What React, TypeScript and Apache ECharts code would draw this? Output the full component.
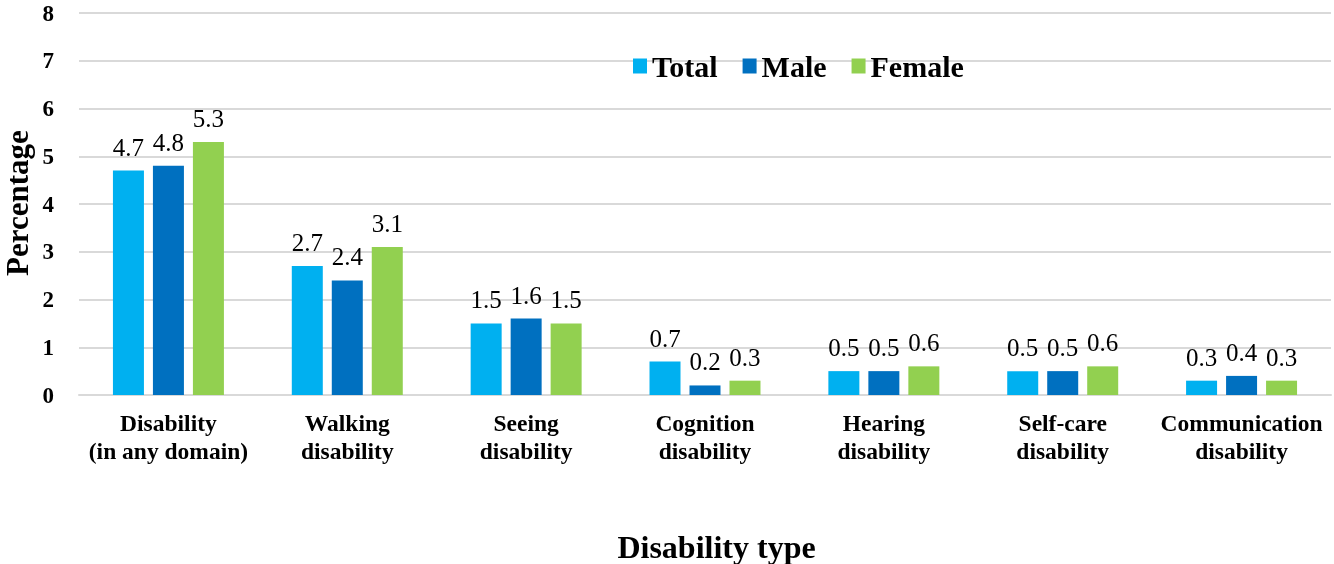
import React, { useEffect, useRef } from "react";
import * as echarts from "echarts";

const categories = [
  "Disability\n(in any domain)",
  "Walking\ndisability",
  "Seeing\ndisability",
  "Cognition\ndisability",
  "Hearing\ndisability",
  "Self-care\ndisability",
  "Communication\ndisability",
];
const totalValues = [4.7, 2.7, 1.5, 0.7, 0.5, 0.5, 0.3];
const maleValues = [4.8, 2.4, 1.6, 0.2, 0.5, 0.5, 0.4];
const femaleValues = [5.3, 3.1, 1.5, 0.3, 0.6, 0.6, 0.3];
const seriesNames = ["Total", "Male", "Female"];
const colors = ["#00B0F0", "#0070C0", "#92D050"];
const xTitle = "Disability type";
const yTitle = "Percentage";

const FONT = "'Liberation Serif', 'Times New Roman', serif";

export default function App() {
  const ref = useRef<HTMLDivElement>(null);
  useEffect(() => {
    if (!ref.current) return;
    const chart = echarts.init(ref.current, null, { renderer: "svg" });
    const dataSets = [totalValues, maleValues, femaleValues];
    chart.setOption({
      animation: false,
      textStyle: { fontFamily: FONT },
      legend: {
        left: 633,
        top: 51,
        padding: 0,
        icon: "rect",
        itemWidth: 14,
        itemHeight: 15,
        itemGap: 25,
        textStyle: { fontFamily: FONT, fontWeight: "bold", fontSize: 30, color: "#000" },
        data: seriesNames,
      },
      grid: { left: 79, right: 3, top: 13, bottom: 169 },
      xAxis: {
        type: "category",
        data: categories,
        axisTick: { show: false },
        axisLine: { lineStyle: { color: "#d9d9d9", width: 2 } },
        axisLabel: {
          fontFamily: FONT,
          fontWeight: "bold",
          fontSize: 23.5,
          color: "#000",
          lineHeight: 28,
          margin: 14,
          interval: 0,
        },
      },
      yAxis: {
        type: "value",
        min: 0,
        max: 8,
        interval: 1,
        axisLabel: { fontFamily: FONT, fontWeight: "bold", fontSize: 23, color: "#000", margin: 25 },
        splitLine: { lineStyle: { color: "#d9d9d9", width: 2 } },
      },
      graphic: [
        {
          type: "text",
          x: 716.5,
          y: 547,
          style: {
            text: xTitle,
            fontFamily: FONT,
            fontWeight: "bold",
            fontSize: 32,
            fill: "#000",
            align: "center",
            verticalAlign: "middle",
          },
        },
        {
          type: "text",
          x: 17,
          y: 203,
          rotation: Math.PI / 2,
          style: {
            text: yTitle,
            fontFamily: FONT,
            fontWeight: "bold",
            fontSize: 31,
            fill: "#000",
            align: "center",
            verticalAlign: "middle",
          },
        },
      ],
      series: dataSets.map((d, i) => ({
        name: seriesNames[i],
        type: "bar",
        data: d,
        barWidth: 31,
        barGap: "29%",
        itemStyle: { color: colors[i] },
        label: {
          show: true,
          position: "top",
          distance: 11,
          fontFamily: FONT,
          fontSize: 25,
          color: "#000",
        },
      })),
    });
    return () => chart.dispose();
  }, []);
  return (
    <div
      ref={ref}
      style={{ position: "fixed", left: 0, top: 0, width: 1334, height: 564 }}
    />
  );
}
